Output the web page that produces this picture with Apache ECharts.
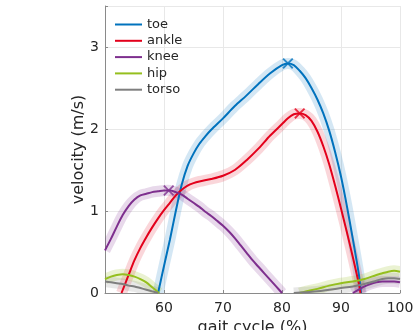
<!DOCTYPE html>
<html>
<head>
<meta charset="utf-8">
<script src="https://cdn.jsdelivr.net/npm/echarts@6/dist/echarts.min.js"></script>
<style>
  html, body { margin: 0; padding: 0; background: #fff; }
</style>
</head>
<body>
<div id="chart" style="width: 419px;height:330px"></div>
<script>
// gait cycle (%) and velocity (m/s), '-' = gap (below 0)
const toeX = [59, 60, 61, 62, 63, 64, 65, 66, 67, 68, 70, 72, 74, 76, 78, 80, 81, 82, 83, 84, 85, 86, 87, 88, 89, 90, 91, 92, 93, 93.4]
const toeY = [0, 0.33, 0.65, 1.0, 1.32, 1.55, 1.70, 1.82, 1.91, 1.99, 2.13, 2.28, 2.41, 2.55, 2.68, 2.78, 2.80, 2.78, 2.71, 2.62, 2.50, 2.36, 2.19, 1.98, 1.72, 1.42, 1.06, 0.66, 0.24, 0]

const ankleX = [52.8, 54, 55, 56, 57, 58, 59, 60, 61, 62, 63, 64, 65, 66, 68, 70, 72, 74, 76, 78, 80, 81, 82, 83, 84, 85, 86, 87, 88, 89, 90, 91, 92, 93, 93.3]
const ankleY = [0, 0.22, 0.40, 0.55, 0.68, 0.80, 0.91, 1.01, 1.10, 1.19, 1.26, 1.31, 1.34, 1.36, 1.39, 1.43, 1.50, 1.62, 1.76, 1.92, 2.06, 2.13, 2.18, 2.19, 2.17, 2.10, 1.97, 1.79, 1.57, 1.31, 1.03, 0.74, 0.44, 0.12, 0]

const kneeX = [50, 51, 52, 53, 54, 55, 56, 57, 58, 59, 60, 61, 62, 63, 64, 65, 66, 67, 68, 69, 70, 71, 72, 73, 74, 75, 76, 77, 78, 79, 80, 86, 92, 93, 94, 95, 96, 97, 98, 99, 100]
const kneeY = [0.52, 0.66, 0.81, 0.95, 1.06, 1.14, 1.19, 1.21, 1.23, 1.24, 1.25, 1.25, 1.23, 1.20, 1.15, 1.10, 1.05, 0.99, 0.94, 0.88, 0.82, 0.75, 0.67, 0.58, 0.49, 0.40, 0.32, 0.24, 0.16, 0.08, 0, '-', 0, 0.04, 0.08, 0.11, 0.13, 0.14, 0.14, 0.14, 0.13]

const hipX = [50, 51, 52, 53, 54, 55, 56, 57, 58, 59, 59.2, 70, 83, 84, 86, 88, 90, 92, 94, 96, 97, 98, 99, 100]
const hipY = [0.17, 0.20, 0.22, 0.23, 0.22, 0.20, 0.17, 0.13, 0.07, 0.01, 0, '-', 0, 0.02, 0.05, 0.09, 0.12, 0.14, 0.17, 0.22, 0.24, 0.26, 0.27, 0.26]

const torsoX = [50, 51, 52, 53, 54, 55, 56, 57, 58, 59, 70, 82, 84, 86, 88, 90, 92, 94, 96, 97, 98, 99, 100]
const torsoY = [0.14, 0.13, 0.12, 0.11, 0.09, 0.08, 0.06, 0.04, 0.02, 0, '-', 0, 0.01, 0.02, 0.04, 0.06, 0.08, 0.11, 0.15, 0.17, 0.18, 0.18, 0.17]

// peaks marked with x
const peakX = [81, 83, 60.8]
const peakY = [2.80, 2.19, 1.25]

const names = ['toe', 'ankle', 'knee', 'hip', 'torso']
const colors = ['#0072bd', '#e3001b', '#7e2f8e', '#95bf1e', '#7f7f7f']
const bandColors = ['rgba(0,114,189,0.17)', 'rgba(227,0,27,0.16)', 'rgba(126,47,142,0.18)', 'rgba(149,191,30,0.2)', 'rgba(127,127,127,0.18)']
const xs = [toeX, ankleX, kneeX, hipX, torsoX]
const ys = [toeY, ankleY, kneeY, hipY, torsoY]

function pairs (x, y) {
  return x.map((v, i) => [v, y[i]])
}

let myChart = echarts.init(document.getElementById('chart'))
let font = 'DejaVu Sans'
let textColor = '#262626'

let series = []
// shaded bands, drawn as wide translucent strokes
names.forEach((name, k) => {
  let data = pairs(xs[k], ys[k])
  series.push({
    name: name + ' sd',
    type: 'custom',
    data: [data[0]],
    z: 1,
    renderItem: function (params, api) {
      let segs = [[]]
      data.forEach(p => {
        if (p[1] === '-') {
          segs.push([])
        } else {
          segs[segs.length - 1].push(api.coord(p))
        }
      })
      let cs = params.coordSys
      return {
        type: 'group',
        clipPath: { type: 'rect', shape: { x: cs.x, y: cs.y, width: cs.width, height: cs.height } },
        children: segs.filter(s => s.length > 1).map(s => ({
          type: 'polyline',
          shape: { points: s, smooth: 0.3 },
          style: { stroke: bandColors[k], lineWidth: 11, fill: null, lineJoin: 'round' }
        }))
      }
    }
  })
})
names.forEach((name, k) => {
  series.push({
    name: name,
    type: 'line',
    data: pairs(xs[k], ys[k]),
    symbol: 'none',
    smooth: 0.3,
    z: 3,
    color: colors[k],
    lineStyle: { width: 2, color: colors[k] }
  })
})
series.push({
  name: 'peak',
  type: 'scatter',
  z: 4,
  symbol: 'path://M0,1.2L1.2,0L5,3.8L8.8,0L10,1.2L6.2,5L10,8.8L8.8,10L5,6.2L1.2,10L0,8.8L3.8,5Z',
  symbolSize: 11,
  data: pairs(peakX, peakY),
  itemStyle: {
    color: function (p) { return colors[p.dataIndex] }
  }
})

let option = {
  animation: false,
  textStyle: { fontFamily: font },
  grid: { left: 105, right: 19, top: 6, bottom: 37, outerBoundsMode: 'none', containLabel: false },
  legend: {
    data: names,
    orient: 'vertical',
    left: 110,
    top: 13,
    itemWidth: 27,
    itemHeight: 14,
    itemGap: 3.3,
    icon: 'path://M0,6L27,6L27,8L0,8Z',
    textStyle: { fontSize: 13, color: textColor, fontFamily: font }
  },
  xAxis: {
    type: 'value',
    min: 50,
    max: 100,
    interval: 10,
    name: 'gait cycle (%)',
    nameLocation: 'middle',
    nameGap: 27,
    nameMoveOverlap: false,
    nameTextStyle: { fontSize: 16, color: textColor, fontFamily: font },
    axisLine: { lineStyle: { color: '#8a8a8a', width: 1 } },
    axisTick: { inside: true, length: 3, lineStyle: { color: '#8a8a8a' } },
    axisLabel: {
      fontSize: 14, color: textColor, margin: 8, fontFamily: font,
      formatter: function (v) { return v === 50 ? '' : v }
    },
    splitLine: { show: true, lineStyle: { color: '#e8e8e8' } }
  },
  yAxis: {
    type: 'value',
    min: 0,
    max: 3.5,
    interval: 1,
    name: 'velocity (m/s)',
    nameLocation: 'middle',
    nameGap: 18,
    nameMoveOverlap: false,
    nameTextStyle: { fontSize: 16, color: textColor, fontFamily: font },
    axisLine: { show: true, lineStyle: { color: '#8a8a8a', width: 1 } },
    axisTick: { show: true, inside: true, length: 3, lineStyle: { color: '#8a8a8a' } },
    axisLabel: {
      fontSize: 14, color: textColor, margin: 6, fontFamily: font,
      formatter: function (v) { return v % 1 === 0 ? v : '' }
    },
    splitLine: { show: true, lineStyle: { color: '#e8e8e8' } }
  },
  series: series
}
myChart.setOption(option)
</script>
</body>
</html>
